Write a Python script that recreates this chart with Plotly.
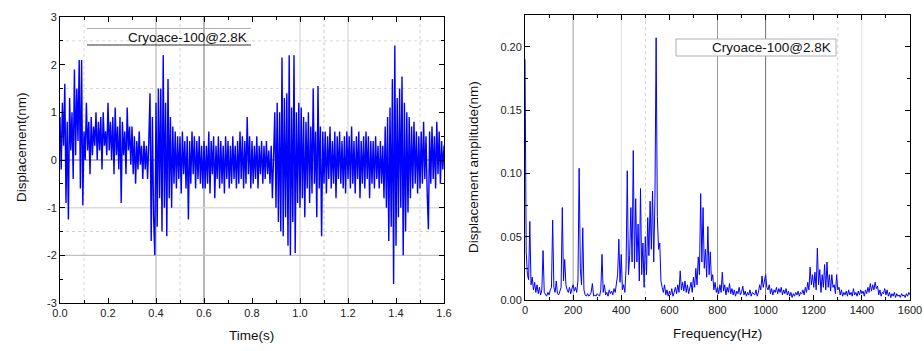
import plotly.graph_objects as go

# ---------------- data ----------------
time_step = 0.005
displacement = [
    0.9, -0.2, 1.2, 0.3, 1.6, -0.9, 0.8, -1.25, 1.3, 0.2, 1.0, -0.4, 1.9, 0.1, 1.5, 0.4, 2.1, -0.6, 2.1, -0.95,
    0.6, 0.0, 1.2, 0.2, 0.8, -0.3, 0.9, 0.1, 0.7, 0.3, 1.0, 0.0, 0.8, 0.2, 0.9, -0.2, 1.0, 0.3, 0.6, 0.1,
    1.2, 0.2, 0.8, 0.0, 0.9, -0.3, 1.1, 0.1, 0.7, -0.2, 0.9, -0.9, 0.8, 0.1, 0.6, -0.3, 1.1, 0.2, 0.7, -0.1,
    0.7, -0.3, 0.5, -0.5, 0.4, -0.2, 0.6, -0.1, 0.3, -0.4, 0.4, -0.2, 0.3, -0.4, 0.4, 1.4, -1.7, 0.9, -1.2, -2.0,
    1.2, -1.4, 1.5, -0.8, 1.5, -1.5, 2.2, -1.0, 1.2, -1.6, 1.7, -0.8, 0.9, -1.0, 0.7, -0.5, 0.6, -0.6, 0.5, -0.4,
    0.5, -0.7, 0.6, -0.3, 0.4, -0.6, 0.5, -1.25, 0.4, -0.5, 0.6, -0.3, 0.5, -0.6, 0.4, -0.4, 0.5, -0.5, 0.3, -0.6,
    0.4, -0.6, 0.3, -0.5, 0.6, -0.7, 0.4, -0.3, 0.5, -0.8, 0.3, -0.4, 0.5, -0.6, 0.4, -0.5, 0.3, -0.7, 0.5, -0.4,
    0.4, -0.6, 0.3, -0.5, 0.5, -0.4, 0.3, -0.6, 0.4, -0.5, 0.6, -0.4, 0.5, -0.6, 0.4, -0.5, 0.9, -0.3, 0.5, -0.6,
    0.4, -0.5, 0.3, -0.4, 0.5, -0.6, 0.3, -0.3, 0.4, -0.5, 0.3, -0.4, 0.4, -0.3, 0.2, -0.5, 0.3, -0.8, 0.1, 1.0,
    -1.0, 1.2, -1.3, 1.0, -1.5, 2.15, -1.6, 1.3, -1.2, 1.4, -1.8, 2.2, -2.0, 1.1, -1.3, 2.2, -1.95, 1.0, -0.9, 1.2,
    -1.0, 1.1, -0.8, 0.9, -1.2, 0.8, -0.6, 1.0, -0.9, 0.7, -0.7, 1.5, -0.5, 0.6, -1.2, 1.55, -0.6, 0.7, -1.6, 0.6,
    -0.5, 0.6, -0.7, 0.5, -0.4, 0.7, -0.6, 0.4, -0.5, 0.6, -0.8, 0.5, -0.4, 0.6, -0.5, 0.4, -0.6, 0.5, -0.7, 0.6,
    -0.4, 0.5, -0.6, 0.7, -0.5, 0.4, -0.7, 0.5, -0.4, 0.6, -0.8, 0.4, -0.5, 0.5, -0.6, 0.6, -0.4, 0.5, -0.8, 0.4,
    -0.5, 0.4, -0.6, 0.5, -0.4, 0.3, -0.6, 0.4, -0.5, 0.3, -0.8, 0.7, -1.0, 0.9, -1.7, 1.1, -1.4, 1.7, -2.6, 2.4,
    -1.8, 1.3, -1.2, 1.5, -1.0, 1.75, -2.0, 1.2, -1.5, 1.0, -1.1, 0.9, -0.8, 0.7, -0.6, 0.8, -0.5, 0.6, -0.7, 0.5,
    -0.6, 0.6, -0.5, 0.8, -0.4, 0.5, -0.7, -1.45, 0.6, -0.5, 0.7, -0.4, 0.5, -0.6, 0.8, -0.3, 0.6, -0.5, 0.4, -0.2,
    0.3,
]
time_s = [round(i * time_step, 3) for i in range(len(displacement))]

freq_step = 5
amplitude = [
    0.19, 0.038, 0.02, 0.016, 0.062, 0.012, 0.018, 0.008, 0.014, 0.006, 0.012, 0.005, 0.01, 0.004, 0.008, 0.039, 0.006, 0.004, 0.003, 0.006,
    0.004, 0.008, 0.01, 0.063, 0.01, 0.006, 0.015, 0.005, 0.004, 0.007, 0.01, 0.073, 0.015, 0.032, 0.012, 0.008, 0.006, 0.01, 0.005, 0.009,
    0.012, 0.007, 0.01, 0.006, 0.015, 0.104, 0.025, 0.012, 0.057, 0.008, 0.004, 0.003, 0.005, 0.003, 0.004, 0.006, 0.013, 0.003, 0.004, 0.003,
    0.005, 0.004, 0.003, 0.008, 0.036, 0.006, 0.012, 0.004, 0.006, 0.003, 0.008, 0.005, 0.007, 0.004, 0.009, 0.006, 0.012, 0.02, 0.048, 0.014,
    0.036, 0.008, 0.012, 0.006, 0.025, 0.102, 0.02, 0.035, 0.073, 0.03, 0.118, 0.025, 0.08, 0.03, 0.06, 0.015, 0.088, 0.02, 0.045, 0.01,
    0.05, 0.02, 0.065, 0.035, 0.078, 0.04, 0.086, 0.03, 0.08, 0.207, 0.066, 0.04, 0.045, 0.015, 0.01, 0.006, 0.012, 0.004, 0.008, 0.003,
    0.007, 0.004, 0.009, 0.003, 0.006, 0.01, 0.005, 0.012, 0.006, 0.023, 0.008, 0.014, 0.007, 0.015, 0.006, 0.012, 0.005, 0.009, 0.014, 0.006,
    0.018, 0.01, 0.025, 0.012, 0.034, 0.02, 0.084, 0.03, 0.073, 0.025, 0.04, 0.018, 0.058, 0.02, 0.038, 0.015, 0.02, 0.008, 0.014, 0.006,
    0.01, 0.005, 0.012, 0.006, 0.022, 0.007, 0.012, 0.004, 0.01, 0.006, 0.013, 0.005, 0.009, 0.004, 0.008, 0.003, 0.007, 0.005, 0.01, 0.004,
    0.006, 0.011, 0.004, 0.007, 0.003, 0.006, 0.004, 0.008, 0.003, 0.006, 0.005, 0.004, 0.008, 0.003, 0.006, 0.012, 0.008, 0.019, 0.01, 0.016,
    0.02, 0.01, 0.008, 0.012, 0.005, 0.009, 0.004, 0.008, 0.006, 0.01, 0.005, 0.009, 0.006, 0.01, 0.004, 0.008, 0.005, 0.009, 0.004, 0.007,
    0.003, 0.006, 0.002, 0.005, 0.003, 0.006, 0.004, 0.007, 0.003, 0.006, 0.005, 0.008, 0.004, 0.01, 0.006, 0.014, 0.008, 0.026, 0.012, 0.02,
    0.01, 0.022, 0.008, 0.041, 0.012, 0.024, 0.006, 0.02, 0.01, 0.028, 0.008, 0.03, 0.01, 0.02, 0.007, 0.02, 0.01, 0.012, 0.005, 0.02,
    0.008, 0.01, 0.004, 0.008, 0.003, 0.006, 0.004, 0.007, 0.003, 0.008, 0.004, 0.006, 0.003, 0.009, 0.004, 0.006, 0.003, 0.007, 0.004, 0.008,
    0.005, 0.007, 0.003, 0.008, 0.005, 0.01, 0.006, 0.013, 0.007, 0.012, 0.008, 0.014, 0.009, 0.011, 0.004, 0.008, 0.003, 0.006, 0.005, 0.009,
    0.004, 0.008, 0.003, 0.006, 0.002, 0.005, 0.003, 0.006, 0.002, 0.005, 0.003, 0.004, 0.002, 0.005, 0.003, 0.004, 0.002, 0.005, 0.003, 0.006,
    0.004,
]
freq_hz = [i * freq_step for i in range(len(amplitude))]

legend_label = "Cryoace-100@2.8K"
left_x_ticks = [0.0, 0.2, 0.4, 0.6, 0.8, 1.0, 1.2, 1.4, 1.6]
left_x_text = ["0.0", "0.2", "0.4", "0.6", "0.8", "1.0", "1.2", "1.4", "1.6"]
left_y_ticks = [-3, -2, -1, 0, 1, 2, 3]
left_y_text = ["-3", "-2", "-1", "0", "1", "2", "3"]
right_x_ticks = [0, 200, 400, 600, 800, 1000, 1200, 1400, 1600]
right_y_ticks = [0.0, 0.05, 0.10, 0.15, 0.20]
right_y_text = ["0.00", "0.05", "0.10", "0.15", "0.20"]

# ---------------- figure ----------------
W, H = 924, 351
FONT = "Liberation Sans, Arial, sans-serif"
BLUE = "#0000ff"

fig = go.Figure()
fig.add_trace(go.Scatter(x=time_s, y=displacement, mode="lines",
                         line=dict(color=BLUE, width=1.4), xaxis="x", yaxis="y",
                         showlegend=False, hoverinfo="skip"))
fig.add_trace(go.Scatter(x=freq_hz, y=amplitude, mode="lines",
                         line=dict(color=BLUE, width=1.0), xaxis="x2", yaxis="y2",
                         showlegend=False, hoverinfo="skip"))

def px_x(p):
    return p / W

def px_y(p):
    return 1 - p / H

axis_common = dict(
    showline=True, linecolor="black", linewidth=1, mirror="allticks",
    ticks="inside", ticklen=5, tickwidth=1.2, tickcolor="black",
    showgrid=False, zeroline=False, automargin=False,
    tickfont=dict(family=FONT, size=11, color="#222"),
)

fig.update_layout(
    template="none",
    width=W, height=H, margin=dict(l=0, r=0, t=0, b=0, pad=0), autosize=False,
    paper_bgcolor="white", plot_bgcolor="white",
    font=dict(family=FONT, color="#222"),
    xaxis=dict(domain=[px_x(60), px_x(444)], range=[0, 1.6], anchor="y",
               tickvals=left_x_ticks, ticktext=left_x_text,
               minor=dict(ticks="inside", ticklen=3, dtick=0.1, tick0=0, tickcolor="black", showgrid=False),
               **axis_common),
    yaxis=dict(domain=[px_y(303), px_y(17)], range=[-3, 3], anchor="x",
               tickvals=left_y_ticks, ticktext=left_y_text,
               minor=dict(ticks="inside", ticklen=3, dtick=0.5, tick0=0, tickcolor="black", showgrid=False),
               **axis_common),
    xaxis2=dict(domain=[px_x(525), px_x(910)], range=[0, 1600], anchor="y2",
                tickvals=right_x_ticks,
                minor=dict(ticks="inside", ticklen=3, dtick=100, tick0=0, tickcolor="black", showgrid=False),
                **axis_common),
    yaxis2=dict(domain=[px_y(300), px_y(15)], range=[0, 0.225], anchor="x2",
                tickvals=right_y_ticks, ticktext=right_y_text,
                minor=dict(ticks="inside", ticklen=3, dtick=0.025, tick0=0, tickcolor="black", showgrid=False),
                **axis_common),
)

shapes = []
def vline(xref, yref, x, color, dash="solid", width=1):
    shapes.append(dict(type="line", xref=xref, yref=yref + " domain", x0=x, x1=x, y0=0, y1=1,
                       line=dict(color=color, width=width, dash=dash), layer="below"))

def hline(xref, yref, y, color, dash="solid", width=1):
    shapes.append(dict(type="line", xref=xref + " domain", yref=yref, x0=0, x1=1, y0=y, y1=y,
                       line=dict(color=color, width=width, dash=dash), layer="below"))

# left panel grid
vline("x", "y", 0.1, "#d8d8d8", "dot")
vline("x", "y", 0.4, "#a8a8a8")
vline("x", "y", 0.5, "#d0d0d0", "dot")
vline("x", "y", 0.6, "#707070")
vline("x", "y", 1.0, "#cfcfcf")
vline("x", "y", 1.1, "#c8c8c8", "dot")
vline("x", "y", 1.2, "#d0d0d0")
vline("x", "y", 1.5, "#d0d0d0", "dot")
hline("x", "y", 2.5, "#d8d8d8", "dot")
hline("x", "y", 1.5, "#d8d8d8", "dot")
hline("x", "y", 0, "#707070")
hline("x", "y", -1, "#dcdcdc", width=1.5)
hline("x", "y", -1.5, "#d0d0d0", "dot")
hline("x", "y", -2, "#c0c0c0", width=1.2)
# right panel grid
vline("x2", "y2", 200, "#a0a0a0")
vline("x2", "y2", 400, "#dcdcdc")
vline("x2", "y2", 500, "#d0d0d0", "dot")
vline("x2", "y2", 800, "#9a9a9a")
vline("x2", "y2", 1000, "#707070")
vline("x2", "y2", 1300, "#d0d0d0", "dot")
vline("x2", "y2", 1400, "#e0e0e0")

# left legend frame (top and bottom lines only)
shapes.append(dict(type="line", xref="paper", yref="paper", x0=px_x(87), x1=px_x(251),
                   y0=px_y(28.5), y1=px_y(28.5), line=dict(color="#b0b0b0", width=1.2)))
shapes.append(dict(type="line", xref="paper", yref="paper", x0=px_x(87), x1=px_x(251),
                   y0=px_y(45), y1=px_y(45), line=dict(color="#333333", width=1.2)))
# right legend box
shapes.append(dict(type="rect", xref="paper", yref="paper", x0=px_x(676), x1=px_x(836),
                   y0=px_y(56), y1=px_y(39), line=dict(color="#b0b0b0", width=1),
                   fillcolor="white"))
fig.update_layout(shapes=shapes)

annotations = [
    dict(text=legend_label, x=px_x(249), y=px_y(37), xref="paper", yref="paper",
         xanchor="right", yanchor="middle", showarrow=False,
         font=dict(family=FONT, size=13.5, color="#111")),
    dict(text=legend_label, x=px_x(833), y=px_y(48), xref="paper", yref="paper",
         xanchor="right", yanchor="middle", showarrow=False,
         font=dict(family=FONT, size=13.5, color="#111")),
    dict(text="Time(s)", x=px_x(252), y=px_y(335), xref="paper", yref="paper",
         xanchor="center", yanchor="middle", showarrow=False,
         font=dict(family=FONT, size=13.5, color="#111")),
    dict(text="Frequency(Hz)", x=px_x(717), y=px_y(333), xref="paper", yref="paper",
         xanchor="center", yanchor="middle", showarrow=False,
         font=dict(family=FONT, size=13.5, color="#111")),
    dict(text="Displacement(nm)", x=px_x(21), y=px_y(147), xref="paper", yref="paper",
         xanchor="center", yanchor="middle", showarrow=False, textangle=-90,
         font=dict(family=FONT, size=13.5, color="#111")),
    dict(text="Displacement amplitude(nm)", x=px_x(473), y=px_y(167), xref="paper", yref="paper",
         xanchor="center", yanchor="middle", showarrow=False, textangle=-90,
         font=dict(family=FONT, size=13.5, color="#111")),
]
fig.update_layout(annotations=annotations)

fig.write_html("out.html")
